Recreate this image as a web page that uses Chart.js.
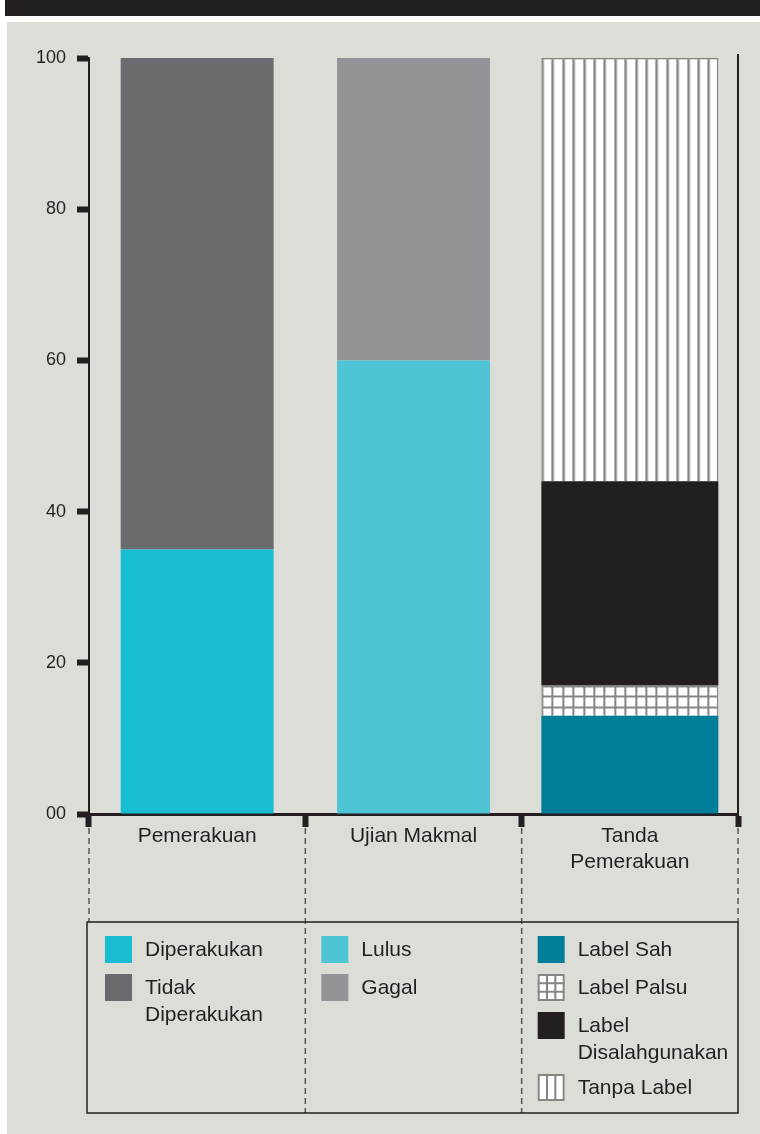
<!DOCTYPE html>
<html>
<head>
<meta charset="utf-8">
<script src="https://cdn.jsdelivr.net/npm/chart.js@4.4.1/dist/chart.umd.min.js"></script>
<style>
  html, body { margin: 0; padding: 0; background: #fff; }
</style>
</head>
<body>
<canvas id="bar-chart" width="760" height="1134"></canvas>
<script>
const categories = ['Pemerakuan', 'Ujian Makmal', ['Tanda', 'Pemerakuan']];
const yTicks = [0, 20, 40, 60, 80, 100];

// percentages for each column, bottom segment first
const pemerakuanValues = [35, 65];
const ujianMakmalValues = [60, 40];
const tandaValues = [13, 4, 27, 56];

const pemerakuanSeries = [['Diperakukan'], ['Tidak', 'Diperakukan']];
const ujianMakmalSeries = [['Lulus'], ['Gagal']];
const tandaSeries = [['Label Sah'], ['Label Palsu'], ['Label', 'Disalahgunakan'], ['Tanpa Label']];

const INK = '#231F20';
const PATTERN_LINE = '#858585';
const FONT = '"Liberation Sans", Arial, sans-serif';
const canvas = document.getElementById('bar-chart');
const ctx = canvas.getContext('2d');

// 5 cells per 52px tile -> 10.4px cells
function gridPattern() {
  const t = document.createElement('canvas');
  t.width = 52; t.height = 52;
  const g = t.getContext('2d');
  g.fillStyle = '#fff'; g.fillRect(0, 0, 52, 52);
  g.fillStyle = PATTERN_LINE;
  for (let i = 0; i < 5; i++) {
    const p = Math.round(i * 10.4);
    g.fillRect(p, 0, 2, 52);
    g.fillRect(0, p, 52, 2);
  }
  return ctx.createPattern(t, 'repeat');
}

function stripePattern() {
  const t = document.createElement('canvas');
  t.width = 52; t.height = 10;
  const g = t.getContext('2d');
  g.fillStyle = '#fff'; g.fillRect(0, 0, 52, 10);
  g.fillStyle = PATTERN_LINE;
  for (let i = 0; i < 5; i++) g.fillRect(Math.round(i * 10.4), 0, 2.5, 10);
  return ctx.createPattern(t, 'repeat');
}

const palsuFill = gridPattern();
const tanpaFill = stripePattern();

const groups = [
  { values: pemerakuanValues, names: pemerakuanSeries, colors: ['#19BDD3', '#6A6B6F'], width: 0.707 },
  { values: ujianMakmalValues, names: ujianMakmalSeries, colors: ['#4FC4D5', '#939498'], width: 0.707 },
  { values: tandaValues, names: tandaSeries, colors: ['#007D98', palsuFill, INK, tanpaFill], width: 0.818 }
];

const datasets = [];
groups.forEach((grp, col) => {
  grp.values.forEach((v, k) => {
    const data = categories.map((_, i) => (i === col ? v : null));
    const fill = grp.colors[k];
    const patterned = typeof fill !== 'string';
    datasets.push({
      label: grp.names[k].join(' '),
      lines: grp.names[k],
      column: col,
      swatch: fill === palsuFill ? 'grid' : fill === tanpaFill ? 'stripes' : null,
      data: data,
      backgroundColor: fill,
      borderColor: patterned ? PATTERN_LINE : fill,
      borderWidth: patterned ? 1.5 : 0,
      barPercentage: grp.width,
      categoryPercentage: 1,
      stack: 'all'
    });
  });
});

// paper background and the dark strip along the top edge
const backdrop = {
  id: 'backdrop',
  beforeDraw(chart) {
    const c = chart.ctx;
    c.save();
    c.fillStyle = '#fff'; c.fillRect(0, 0, chart.width, chart.height);
    c.fillStyle = INK; c.fillRect(5, 0, chart.width - 5, 16);
    c.fillStyle = '#DCDDD7'; c.fillRect(7, 22, chart.width - 7, chart.height - 22);
    c.restore();
  }
};

// keep the patterns lined up with the left edge of their bar
const patternAnchor = {
  id: 'patternAnchor',
  beforeDatasetsDraw(chart) {
    chart.data.datasets.forEach((ds, i) => {
      if (!ds.swatch) return;
      const bar = chart.getDatasetMeta(i).data[ds.column];
      if (!bar) return;
      const left = bar.x - bar.width / 2;
      ds.backgroundColor.setTransform(new DOMMatrix([1, 0, 0, 1, left, bar.y]));
    });
  }
};

function drawSwatch(c, ds, x, y, s) {
  c.save();
  if (!ds.swatch) {
    c.fillStyle = ds.backgroundColor;
    c.fillRect(x, y, s, s);
  } else {
    c.fillStyle = '#fff';
    c.fillRect(x, y, s, s);
    c.strokeStyle = PATTERN_LINE;
    c.lineWidth = 2;
    c.strokeRect(x + 1, y + 1, s - 2, s - 2);
    c.beginPath();
    for (let k = 1; k < 3; k++) {
      const p = x + 1 + k * (s - 2) / 3;
      c.moveTo(p, y); c.lineTo(p, y + s);
      if (ds.swatch === 'grid') {
        const q = y + 1 + k * (s - 2) / 3;
        c.moveTo(x, q); c.lineTo(x + s, q);
      }
    }
    c.stroke();
  }
  c.restore();
}

// right frame, dashed column dividers and the legend table
const frame = {
  id: 'frame',
  afterDraw(chart) {
    const c = chart.ctx, x = chart.scales.x, area = chart.chartArea;
    const w = (x.right - x.left) / categories.length;
    const cuts = [0, 1, 2, 3].map(i => x.left + i * w);
    const boxTop = area.bottom + 108, boxBottom = area.bottom + 299;
    c.save();
    c.strokeStyle = INK; c.lineWidth = 2;
    c.beginPath(); c.moveTo(area.right, area.top - 4); c.lineTo(area.right, area.bottom); c.stroke();

    c.setLineDash([6, 4]); c.strokeStyle = '#555'; c.lineWidth = 1.5;
    cuts.forEach((cx, i) => {
      const end = (i === 0 || i === cuts.length - 1) ? boxTop : boxBottom;
      c.beginPath(); c.moveTo(cx, area.bottom + 14); c.lineTo(cx, end); c.stroke();
    });
    c.setLineDash([]);
    c.strokeStyle = INK; c.lineWidth = 1.5;
    c.strokeRect(cuts[0] - 2, boxTop, cuts[3] - cuts[0] + 2, boxBottom - boxTop);

    c.font = '21px ' + FONT;
    c.fillStyle = INK;
    c.textBaseline = 'middle';
    const rowY = [boxTop + 14, boxTop + 14, boxTop + 14];
    chart.data.datasets.forEach(ds => {
      const col = ds.column;
      const y = rowY[col];
      drawSwatch(c, ds, cuts[col] + 16, y, 27);
      ds.lines.forEach((line, j) => c.fillText(line, cuts[col] + 56, y + 14 + j * 27));
      rowY[col] += 38 + (ds.lines.length - 1) * 24;
    });
    c.restore();
  }
};

new Chart(canvas, {
  type: 'bar',
  data: { labels: categories, datasets: datasets },
  plugins: [backdrop, patternAnchor, frame],
  options: {
    responsive: false,
    devicePixelRatio: 1,
    animation: false,
    font: { family: FONT },
    layout: { padding: { top: 58, right: 22, bottom: 260, left: 0 } },
    plugins: { legend: { display: false }, tooltip: { enabled: false } },
    scales: {
      x: {
        stacked: true,
        afterFit(scale) { scale.height = 60; },
        grid: { offset: true, drawOnChartArea: false, tickLength: 13, tickWidth: 6, tickColor: INK },
        border: { width: 3, color: INK },
        ticks: {
          color: INK, padding: -3, maxRotation: 0, autoSkip: false,
          font: { size: 21, family: FONT, lineHeight: 1.2 }
        }
      },
      y: {
        stacked: true,
        min: yTicks[0],
        max: yTicks[yTicks.length - 1],
        afterFit(scale) { scale.width = 89; },
        afterBuildTicks(scale) { scale.ticks = yTicks.map(v => ({ value: v })); },
        grid: { drawOnChartArea: false, tickLength: 12, tickWidth: 6, tickColor: INK },
        border: { width: 2, color: INK },
        ticks: {
          color: INK, padding: 11,
          font: { size: 18, family: FONT },
          callback: v => (v === 0 ? '00' : String(v))
        }
      }
    }
  }
});
</script>
</body>
</html>
